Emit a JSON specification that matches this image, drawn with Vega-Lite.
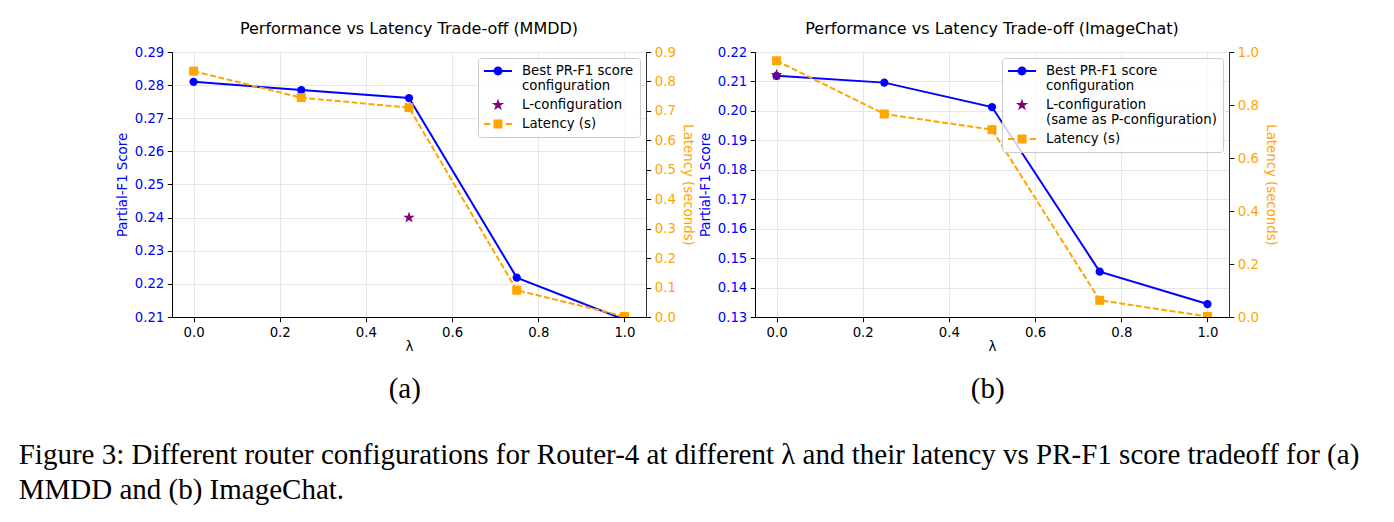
{
  "$schema": "https://vega.github.io/schema/vega-lite/v6.json",
  "background": "white",
  "padding": {"left": 18, "top": 20, "right": 0, "bottom": 0},
  "datasets": {
    "mmdd": [
      {"lambda": 0.0, "score": 0.2810, "latency": 0.835},
      {"lambda": 0.25, "score": 0.2785, "latency": 0.745},
      {"lambda": 0.5, "score": 0.2761, "latency": 0.711},
      {"lambda": 0.75, "score": 0.2219, "latency": 0.091},
      {"lambda": 1.0, "score": 0.2092, "latency": 0.002}
    ],
    "mmdd_l": [{"lambda": 0.5, "score": 0.2400}],
    "ic": [
      {"lambda": 0.0, "score": 0.2119, "latency": 0.967},
      {"lambda": 0.25, "score": 0.2096, "latency": 0.766},
      {"lambda": 0.5, "score": 0.2013, "latency": 0.707},
      {"lambda": 0.75, "score": 0.1454, "latency": 0.063},
      {"lambda": 1.0, "score": 0.1344, "latency": 0.002}
    ],
    "ic_l": [{"lambda": 0.0, "score": 0.2122}]
  },
  "config": {
    "font": "DejaVu Sans",
    "view": {"stroke": "#333333", "strokeWidth": 1},
    "axis": {
      "labelFont": "DejaVu Sans", "titleFont": "DejaVu Sans",
      "labelFontSize": 13.3, "titleFontSize": 13.3, "titleFontWeight": "normal",
      "tickColor": "black", "domainColor": "black", "tickSize": 4.7, "labelPadding": 3.5,
      "gridColor": "#e6e6e6", "labelColor": "black", "titleColor": "black",
      "labelFlush": false, "labelOverlap": false
    },
    "title": {"font": "DejaVu Sans", "fontSize": 16, "fontWeight": "normal", "color": "black"},
    "legend": {
      "labelFont": "DejaVu Sans", "labelFontSize": 13.3, "labelColor": "black", "labelLimit": 0,
      "symbolSize": 196, "symbolStrokeWidth": 0, "labelOffset": 24, "rowPadding": 5,
      "padding": 6, "cornerRadius": 3, "strokeColor": "#cccccc", "fillColor": "rgba(255,255,255,0.8)",
      "orient": "top-right", "offset": 6
    }
  },
  "title": {
    "text": ["Figure 3: Different router configurations for Router-4 at different λ and their latency vs PR-F1 score tradeoff for (a)", "MMDD and (b) ImageChat."],
    "orient": "bottom", "anchor": "start", "frame": "bounds",
    "font": "Liberation Serif", "fontSize": 29, "lineHeight": 35, "fontWeight": "normal",
    "offset": 37, "dx": -96
  },
  "resolve": {"scale": {"color": "independent", "shape": "independent"}, "legend": {"color": "independent", "shape": "independent"}},
  "spacing": 2,
  "hconcat": [
    {
      "title": {"text": "(a)", "orient": "bottom", "anchor": "middle", "frame": "bounds", "font": "Liberation Serif", "fontSize": 29, "offset": 22},
      "resolve": {"scale": {"color": "independent", "shape": "independent"}, "legend": {"color": "independent", "shape": "independent"}},
      "vconcat": [
        {
          "width": 474, "height": 265,
          "title": {"text": "Performance vs Latency Trade-off (MMDD)", "offset": 8},
          "data": {"name": "mmdd"},
          "resolve": {"scale": {"y": "independent"}, "axis": {"y": "independent"}},
          "layer": [
            {
              "encoding": {
                "x": {"field": "lambda", "type": "quantitative", "scale": {"domain": [-0.05, 1.05], "nice": false, "zero": false}, "axis": {"title": "λ", "values": [0, 0.2, 0.4, 0.6, 0.8, 1.0], "format": ".1f", "grid": true, "titlePadding": 1}},
                "y": {"field": "score", "type": "quantitative", "scale": {"domain": [0.21, 0.29], "nice": false, "zero": false}, "axis": {"title": "Partial-F1 Score", "values": [0.21, 0.22, 0.23, 0.24, 0.25, 0.26, 0.27, 0.28, 0.29], "format": ".2f", "grid": true, "labelColor": "#0000FF", "titleColor": "#0000FF", "titlePadding": 5}}
              },
              "layer": [
                {"mark": {"type": "line", "color": "#0000FF", "strokeWidth": 2, "clip": true}},
                {"mark": {"type": "point", "shape": "circle", "filled": true, "color": "#0000FF", "size": 68, "opacity": 1, "clip": true}},
                {
                  "data": {"name": "mmdd_l"},
                  "mark": {"type": "point", "shape": "M0,-1L0.2245,-0.309L0.9511,-0.309L0.3633,0.118L0.5878,0.809L0,0.382L-0.5878,0.809L-0.3633,0.118L-0.9511,-0.309L-0.2245,-0.309Z", "filled": true, "color": "#800080", "size": 150, "opacity": 1, "clip": true}
                }
              ]
            },
            {
              "encoding": {
                "x": {"field": "lambda", "type": "quantitative"},
                "y": {"field": "latency", "type": "quantitative", "scale": {"domain": [0, 0.9], "nice": false, "zero": false}, "axis": {"orient": "right", "title": "Latency (seconds)", "values": [0, 0.1, 0.2, 0.3, 0.4, 0.5, 0.6, 0.7, 0.8, 0.9], "format": ".1f", "grid": false, "labelColor": "#FFA500", "titleColor": "#FFA500", "domainColor": "#333333", "titlePadding": 5}}
              },
              "layer": [
                {"mark": {"type": "line", "color": "#FFA500", "strokeWidth": 2, "strokeDash": [6, 2.5], "clip": true}},
                {"mark": {"type": "square", "color": "#FFA500", "size": 81, "opacity": 1, "clip": true}}
              ]
            },
            {
              "transform": [{"filter": "false"}],
              "mark": {"type": "point", "filled": true, "opacity": 1},
              "encoding": {
                "color": {"field": "series", "type": "nominal", "scale": {"domain": ["Best PR-F1 score\n configuration", "L-configuration", "Latency (s)"], "range": ["#0000FF", "#800080", "#FFA500"]}, "legend": {"title": null, "labelExpr": "split(datum.label, '\\n')", "orient": "top-right"}},
                "shape": {"field": "series", "type": "nominal", "scale": {"domain": ["Best PR-F1 score\n configuration", "L-configuration", "Latency (s)"], "range": [
                  "M-1,-0.14H3V0.14H-1Z M1.64,0A0.64,0.64 0 1 1 0.36,0A0.64,0.64 0 1 1 1.64,0Z",
                  "M1,-0.93L1.209,-0.287L1.884,-0.287L1.338,0.11L1.547,0.752L1,0.355L0.453,0.752L0.662,0.11L0.116,-0.287L0.791,-0.287Z",
                  "M-1,-0.14H-0.1V0.14H-1Z M2.1,-0.14H3V0.14H2.1Z M0.36,-0.64H1.64V0.64H0.36Z"
                ]}, "legend": {"title": null, "labelExpr": "split(datum.label, '\\n')", "orient": "top-right"}}
              }
            }
          ]
        }
      ]
    },
    {
      "title": {"text": "(b)", "orient": "bottom", "anchor": "middle", "frame": "bounds", "font": "Liberation Serif", "fontSize": 29, "offset": 22},
      "resolve": {"scale": {"color": "independent", "shape": "independent"}, "legend": {"color": "independent", "shape": "independent"}},
      "vconcat": [
        {
          "width": 474, "height": 265,
          "title": {"text": "Performance vs Latency Trade-off (ImageChat)", "offset": 8},
          "data": {"name": "ic"},
          "resolve": {"scale": {"y": "independent"}, "axis": {"y": "independent"}},
          "layer": [
            {
              "encoding": {
                "x": {"field": "lambda", "type": "quantitative", "scale": {"domain": [-0.05, 1.05], "nice": false, "zero": false}, "axis": {"title": "λ", "values": [0, 0.2, 0.4, 0.6, 0.8, 1.0], "format": ".1f", "grid": true, "titlePadding": 1}},
                "y": {"field": "score", "type": "quantitative", "scale": {"domain": [0.13, 0.22], "nice": false, "zero": false}, "axis": {"title": "Partial-F1 Score", "values": [0.13, 0.14, 0.15, 0.16, 0.17, 0.18, 0.19, 0.20, 0.21, 0.22], "format": ".2f", "grid": true, "labelColor": "#0000FF", "titleColor": "#0000FF", "titlePadding": 5}}
              },
              "layer": [
                {"mark": {"type": "line", "color": "#0000FF", "strokeWidth": 2, "clip": true}},
                {"mark": {"type": "point", "shape": "circle", "filled": true, "color": "#0000FF", "size": 68, "opacity": 1, "clip": true}},
                {
                  "data": {"name": "ic_l"},
                  "mark": {"type": "point", "shape": "M0,-1L0.2245,-0.309L0.9511,-0.309L0.3633,0.118L0.5878,0.809L0,0.382L-0.5878,0.809L-0.3633,0.118L-0.9511,-0.309L-0.2245,-0.309Z", "filled": true, "color": "#800080", "size": 150, "opacity": 1, "clip": true}
                }
              ]
            },
            {
              "encoding": {
                "x": {"field": "lambda", "type": "quantitative"},
                "y": {"field": "latency", "type": "quantitative", "scale": {"domain": [0, 1.0], "nice": false, "zero": false}, "axis": {"orient": "right", "title": "Latency (seconds)", "values": [0, 0.2, 0.4, 0.6, 0.8, 1.0], "format": ".1f", "grid": false, "labelColor": "#FFA500", "titleColor": "#FFA500", "domainColor": "#333333", "titlePadding": 5}}
              },
              "layer": [
                {"mark": {"type": "line", "color": "#FFA500", "strokeWidth": 2, "strokeDash": [6, 2.5], "clip": true}},
                {"mark": {"type": "square", "color": "#FFA500", "size": 81, "opacity": 1, "clip": true}}
              ]
            },
            {
              "transform": [{"filter": "false"}],
              "mark": {"type": "point", "filled": true, "opacity": 1},
              "encoding": {
                "color": {"field": "series", "type": "nominal", "scale": {"domain": ["Best PR-F1 score\n configuration", "L-configuration\n(same as P-configuration)", "Latency (s)"], "range": ["#0000FF", "#800080", "#FFA500"]}, "legend": {"title": null, "labelExpr": "split(datum.label, '\\n')", "orient": "top-right"}},
                "shape": {"field": "series", "type": "nominal", "scale": {"domain": ["Best PR-F1 score\n configuration", "L-configuration\n(same as P-configuration)", "Latency (s)"], "range": [
                  "M-1,-0.14H3V0.14H-1Z M1.64,0A0.64,0.64 0 1 1 0.36,0A0.64,0.64 0 1 1 1.64,0Z",
                  "M1,-0.93L1.209,-0.287L1.884,-0.287L1.338,0.11L1.547,0.752L1,0.355L0.453,0.752L0.662,0.11L0.116,-0.287L0.791,-0.287Z",
                  "M-1,-0.14H-0.1V0.14H-1Z M2.1,-0.14H3V0.14H2.1Z M0.36,-0.64H1.64V0.64H0.36Z"
                ]}, "legend": {"title": null, "labelExpr": "split(datum.label, '\\n')", "orient": "top-right"}}
              }
            }
          ]
        }
      ]
    }
  ]
}
